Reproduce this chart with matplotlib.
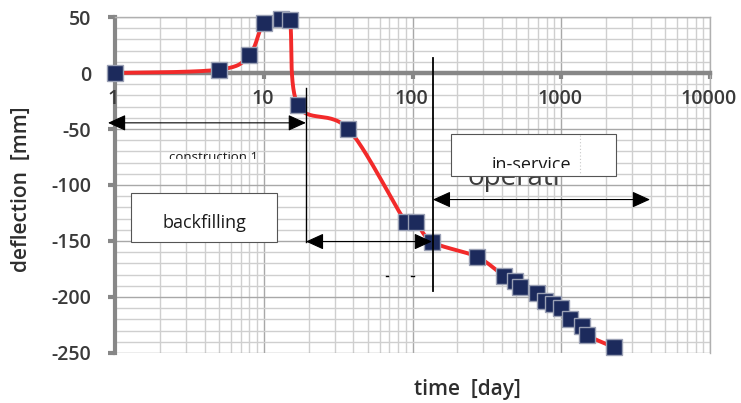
import numpy as np
import matplotlib
matplotlib.use("Agg")
import matplotlib.pyplot as plt
from matplotlib.patches import Rectangle
from matplotlib.ticker import FixedLocator, LogLocator, MultipleLocator, NullFormatter
from matplotlib.transforms import Bbox, TransformedBbox

# Measured deflection over time
time_day = [1, 5, 8, 10, 13, 15, 17, 37, 90, 105, 136, 270, 410, 490, 530,
            690, 780, 880, 990, 1150, 1380, 1490, 2270]
deflection_mm = [0, 3, 16, 45, 48, 47, -29, -50, -133, -133, -151, -164, -181,
                 -186, -191, -196, -204, -206, -210, -220, -226, -234, -245]

x_ticks = [1, 10, 100, 1000, 10000]
x_tick_labels = ["1", "10", "100", "1000", "10000"]
y_ticks = [50, 0, -50, -100, -150, -200, -250]
y_tick_labels = ["50", "0", "-50", "-100", "-150", "-200", "-250"]

TICK_FONT = dict(family="Open Sans", weight="semibold", size=14, color="#3a3a3a")
LABEL_FONT = dict(family="Open Sans", weight="semibold", size=15, color="#2e2e2e")
NOTE_FONT = "Open Sans"

fig = plt.figure(figsize=(7.41, 4.03), dpi=100)
ax = fig.add_axes([0.1552, 0.1241, 0.8030, 0.8337])
ax.set_xscale("log")
ax.set_xlim(1, 10000)
ax.set_ylim(-250, 50)

# grid
ax.xaxis.set_major_locator(FixedLocator(x_ticks))
ax.xaxis.set_minor_locator(LogLocator(base=10, subs=np.arange(2, 10)))
ax.xaxis.set_minor_formatter(NullFormatter())
ax.yaxis.set_major_locator(FixedLocator(y_ticks))
ax.yaxis.set_minor_locator(MultipleLocator(10))
ax.grid(which="minor", color="#cfcfcf", lw=1.0)
ax.grid(which="major", color="#a8a8a8", lw=1.0)
ax.set_axisbelow(True)

# axes lines: thick gray y-axis on the left, x-axis through zero
for side in ("top", "right"):
    ax.spines[side].set_color("#b0b0b0")
    ax.spines[side].set_linewidth(1.0)
ax.spines["left"].set_color("#878787")
ax.spines["left"].set_linewidth(3.0)
ax.spines["bottom"].set_position(("data", 0))
ax.spines["bottom"].set_color("#878787")
ax.spines["bottom"].set_linewidth(3.2)

ax.set_xticks(x_ticks)
ax.set_xticklabels([])
ax.set_yticks(y_ticks)
ax.set_yticklabels(y_tick_labels, fontdict=TICK_FONT)
ax.tick_params(axis="x", which="major", direction="out", length=4, width=3,
               color="#878787")
ax.tick_params(axis="y", which="major", direction="out", length=5, width=3,
               color="#878787", pad=12)
ax.tick_params(which="minor", left=False, bottom=False, right=False, top=False)

# x tick labels sit below the zero line, drawn above the y-axis line
for xv, lab in zip(x_ticks, x_tick_labels):
    ax.annotate(lab, xy=(xv, 0), xytext=(-1.5, -36), textcoords="offset pixels",
                ha="center", va="bottom", annotation_clip=False, zorder=3,
                **TICK_FONT)


def smooth_curve(xs, ys, n=30):
    """Bezier smoothing through the points, computed in display space."""
    pts = ax.transData.transform(np.column_stack([xs, ys]))
    ext = np.vstack([pts[0], pts, pts[-1]])
    t = np.linspace(0, 1, n, endpoint=False)[:, None]
    out = []
    for i in range(len(pts) - 1):
        p0, p1, p2, p3 = ext[i], ext[i + 1], ext[i + 2], ext[i + 3]
        c1 = p1 + (p2 - p0) / 6.0
        c2 = p2 - (p3 - p1) / 6.0
        seg = ((1 - t) ** 3) * p1 + 3 * ((1 - t) ** 2) * t * c1 \
            + 3 * (1 - t) * t ** 2 * c2 + t ** 3 * p2
        out.append(seg)
    out.append(pts[-1:])
    curve = ax.transData.inverted().transform(np.vstack(out))
    return curve[:, 0], curve[:, 1]


cx, cy = smooth_curve(time_day, deflection_mm)
ax.plot(cx, cy, color="#f22a2a", lw=2.8, zorder=4, solid_capstyle="round")
ax.plot(time_day, deflection_mm, ls="none", marker="s", markersize=11,
        markerfacecolor="#1c2a5c", markeredgecolor="#9aa0b4",
        markeredgewidth=1.0, zorder=5, clip_on=False)

# phase annotations
arrow_style = dict(arrowstyle="<|-|>,head_length=1.1,head_width=0.5",
                   mutation_scale=10, color="black", lw=0.8,
                   shrinkA=0, shrinkB=0)
ax.annotate("", xy=(19.2, -44.5), xytext=(0.897, -44.5),
            arrowprops=arrow_style, annotation_clip=False, zorder=6)
ax.annotate("", xy=(135, -150.5), xytext=(19.2, -150.5),
            arrowprops=arrow_style, annotation_clip=False, zorder=6)
ax.annotate("", xy=(3950, -113), xytext=(137, -113),
            arrowprops=arrow_style, annotation_clip=False, zorder=6)

ax.plot([19.2, 19.2], [-13, -150.5], color="black", lw=1.0, zorder=6)
ax.plot([137, 137], [13.7, -194.4], color="black", lw=1.3, zorder=6)
ax.plot([66.5, 68.5], [-181.4, -181.4], color="black", lw=1.0, zorder=6)
ax.plot([97, 102], [-181.4, -181.4], color="black", lw=1.0, zorder=6)

# "construction 1" label, cut off along its lower part
t1 = ax.text(2.31, -78.8, "construction 1", family=NOTE_FONT, size=9.5,
             color="#1a1a1a", ha="left", va="baseline", zorder=6)
t1.set_clip_box(TransformedBbox(Bbox.from_extents(1, -76.6, 10000, 50),
                                ax.transData))
t1.set_clip_on(True)

# backfilling box
ax.add_patch(Rectangle((1.28, -150.6), 12.3 - 1.28, 150.6 - 106.9,
                       facecolor="white", edgecolor="#555555", lw=0.8, zorder=6))
ax.text(3.97, -138.5, "backfilling", family=NOTE_FONT, size=13,
        color="#1a1a1a", ha="center", va="baseline", zorder=7)

# large label partly hidden under the in-service box
ax.text(236, -100.0, "operati", family=NOTE_FONT, size=20, color="#3c3c3c",
        ha="left", va="baseline", zorder=6)
ax.add_patch(Rectangle((181.5, -91.7), 2335 - 181.5, 91.7 - 54.2,
                       facecolor="white", edgecolor="#555555", lw=0.8, zorder=7))
ax.plot([1337, 1337], [-55.5, -90.5], color="#c8c8c8", lw=0.8, ls=(0, (1, 2)),
        zorder=8)
t2 = ax.text(342, -86.3, "in-service", family=NOTE_FONT, size=13,
             color="#1a1a1a", ha="left", va="baseline", zorder=8)
t2.set_clip_box(TransformedBbox(Bbox.from_extents(1, -84.6, 10000, 50),
                                ax.transData))
t2.set_clip_on(True)

# axis titles
fig.text(21 / 741, 1 - 189 / 403, "deflection  [mm]", rotation=90,
         ha="center", va="center", **LABEL_FONT)
fig.text(467 / 741, 1 - 390 / 403, "time  [day]", ha="center", va="center",
         **LABEL_FONT)

fig.savefig("out.png", dpi=100)
